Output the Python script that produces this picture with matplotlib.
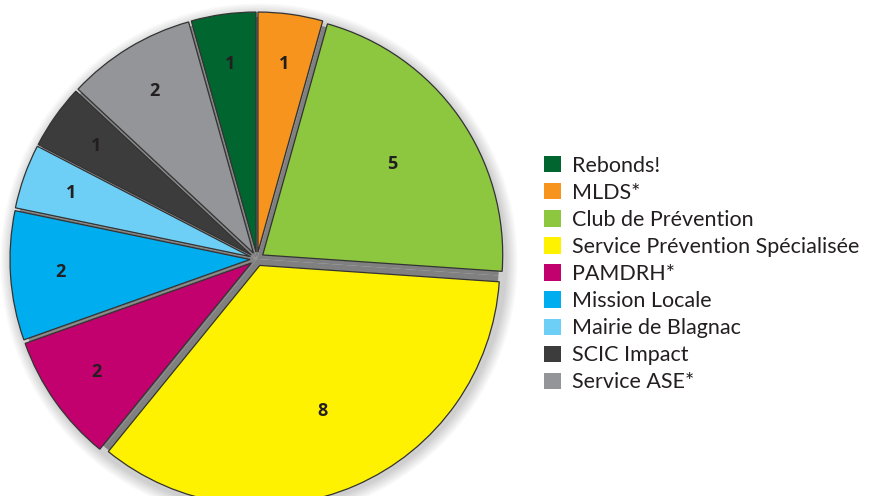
import numpy as np
import matplotlib.pyplot as plt
from matplotlib.patches import Patch, Circle

# Data (clockwise from 12 o'clock)
labels = ['MLDS*', 'Club de Prévention', 'Service Prévention Spécialisée', 'PAMDRH*',
          'Mission Locale', 'Mairie de Blagnac', 'SCIC Impact', 'Service ASE*', 'Rebonds!']
values = [1, 5, 8, 2, 2, 1, 1, 2, 1]
colors = ['#f7941d', '#8dc63f', '#fff200', '#c2006e', '#00aeef',
          '#6dcff6', '#3c3c3c', '#939598', '#00652e']
legend_order = ['Rebonds!', 'MLDS*', 'Club de Prévention', 'Service Prévention Spécialisée',
                'PAMDRH*', 'Mission Locale', 'Mairie de Blagnac', 'SCIC Impact', 'Service ASE*']

plt.rcParams['font.family'] = ['Lato', 'DejaVu Sans']

fig = plt.figure(figsize=(8.75, 4.96), dpi=100)
ax = fig.add_axes([0, 0, 1, 1])

cx, cy, R = 257, 496 - 259, 240

# soft shadow
for i in range(8):
    ax.add_patch(Circle((cx + 2, cy - 3), R + 8 + i * 1.5, color='black',
                        alpha=0.025, lw=0, zorder=0))

# gray base visible in the gaps
ax.pie(values, colors=['#808080'] * len(values), startangle=90, counterclock=False,
       radius=R + 2, center=(cx, cy), wedgeprops=dict(linewidth=0), frame=True)

wedges, _ = ax.pie(values, colors=colors, startangle=90, counterclock=False,
                   radius=R, center=(cx, cy), explode=[7] * len(values),
                   wedgeprops=dict(edgecolor='#333333', linewidth=0.9), frame=True)

ax.set_xlim(0, 875)
ax.set_ylim(0, 496)
ax.set_aspect('equal')
ax.axis('off')

for w, v in zip(wedges, values):
    ang = np.deg2rad((w.theta1 + w.theta2) / 2)
    d = 0.69 if v >= 5 else 0.82
    ax.text(cx + d * R * np.cos(ang), cy + d * R * np.sin(ang), str(v),
            ha='center', va='center', fontsize=13, fontweight='bold', color='#231f20',
            family='Open Sans')

handles = [Patch(facecolor=colors[labels.index(l)], edgecolor='none') for l in legend_order]
ax.legend(handles, legend_order, loc='upper left', bbox_to_anchor=(535 / 875, 1 - 147 / 496),
          frameon=False, fontsize=15.5, handlelength=0.8, handleheight=0.8,
          handletextpad=0.5, labelspacing=0.33, borderaxespad=0, labelcolor='#231f20')

fig.savefig('out.png', dpi=100)
